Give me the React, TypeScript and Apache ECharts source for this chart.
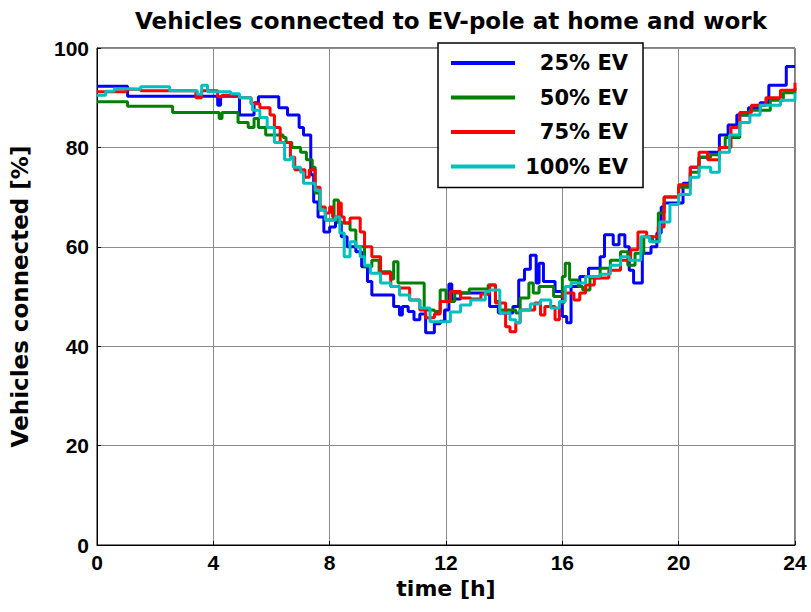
import React, { useEffect, useRef } from "react";
import * as echarts from "echarts";

const seriesNames = ["25% EV", "50% EV", "75% EV", "100% EV"];
const colors = ["#0000FF", "#008000", "#FF0000", "#00BFBF"];
const xTicks = [0, 4, 8, 12, 16, 20, 24];
const yTicks = [0, 20, 40, 60, 80, 100];

const ev25: number[][] = [[0,92.3],[1.05,90.3],[4.15,88.5],[4.25,90.3],[4.9,86.5],[5.4,89],[5.55,90.2],[6.25,88],[6.55,86.5],[6.95,84],[7.1,82.5],[7.35,74.5],[7.45,69],[7.6,66],[7.8,63],[8.0,64],[8.2,65],[8.4,62],[8.6,60],[8.9,59],[9.1,56],[9.3,53],[9.45,50.3],[10.2,48],[10.4,46.3],[10.5,48],[10.7,47],[10.9,45.3],[11.1,46.5],[11.3,42.7],[11.6,44.5],[11.8,45],[11.95,47.3],[12.1,52.5],[12.2,49.5],[12.5,50.7],[13.3,50.5],[13.5,48],[13.8,46.7],[14.3,48],[14.5,53.3],[14.7,55.5],[14.9,58.3],[15.1,52.7],[15.2,56.7],[15.35,53],[15.75,51],[16.0,46],[16.15,44.7],[16.3,52],[16.6,54],[16.9,55.7],[17.3,58],[17.45,62.4],[17.75,60.4],[17.95,62.4],[18.15,60],[18.3,55.3],[18.45,52.7],[18.75,58.7],[19.05,60],[19.25,62.8],[19.4,68],[19.5,68.8],[20.15,72.8],[20.4,76],[20.7,78],[21.0,79],[21.4,82.5],[21.7,84.5],[22.0,86.5],[22.4,88],[22.8,89],[23.1,92.5],[23.7,96.3],[24,96.3]];

const ev50: number[][] = [[0,89.2],[1.05,88.3],[2.6,87],[4.2,85.8],[4.3,87],[4.85,85],[5.2,84],[5.4,85.8],[5.55,84],[5.8,82.5],[6.4,82],[6.5,81],[6.7,80],[7.0,79],[7.2,77.5],[7.4,76],[7.5,70.8],[7.65,67.4],[7.85,65.4],[8.15,69.4],[8.3,64.8],[8.7,63.4],[8.9,60],[9.2,56],[9.45,57.3],[9.7,55],[10.1,53.5],[10.2,57],[10.35,52.7],[11.1,52.7],[11.25,47.3],[11.6,47],[11.8,51.3],[12.0,49],[12.3,50.7],[12.8,51.5],[13.45,52.3],[13.7,49],[13.85,47.3],[14.4,46.7],[14.55,49.7],[14.85,52.7],[15.0,50.7],[15.2,52],[15.7,50],[16.0,54],[16.1,56.7],[16.25,53.3],[16.55,52],[16.7,51.3],[16.95,53.7],[17.3,55.7],[17.65,57.3],[18.0,59],[18.25,56.3],[18.5,58.7],[18.8,62],[19.1,61],[19.3,66.8],[19.5,70],[20.0,72],[20.4,75],[20.7,78],[21.1,78.5],[21.4,80],[21.6,82],[22.1,86.5],[22.45,87.5],[23.15,89.5],[23.6,91],[24,92]];

const ev75: number[][] = [[0,91.2],[1.0,91.7],[1.5,91.4],[3.4,90],[3.6,91.4],[4.15,90.2],[4.3,90.5],[4.9,90],[5.3,88.8],[5.6,88],[5.95,86.5],[6.1,84],[6.3,81],[6.65,78],[6.8,75.5],[7.15,74],[7.3,75.5],[7.5,72],[7.67,68],[7.85,66.8],[8.0,68],[8.1,66],[8.3,68.8],[8.4,66],[8.5,64.8],[8.7,65.8],[9.05,63],[9.2,60],[9.45,58],[9.75,54.7],[10.1,52],[10.4,51.7],[10.75,49.3],[11.1,47.3],[11.3,45.7],[11.6,46.5],[11.8,49],[12.15,51],[12.5,49.7],[12.85,49.5],[13.2,50.5],[13.5,52.3],[13.7,48.7],[14.05,43.9],[14.2,42.9],[14.4,44.7],[14.55,47.3],[15.05,48.7],[15.25,46.3],[15.4,48],[15.75,45.3],[15.9,48.7],[16.05,50.7],[16.4,49.3],[16.6,50.7],[16.8,52.3],[17.1,53.7],[17.6,55.3],[18.0,57.3],[18.35,59.4],[18.6,63],[18.9,62],[19.3,64],[19.5,70],[20.0,72.5],[20.4,76],[20.7,79],[21.0,77.5],[21.4,80],[21.8,84],[22.1,87],[22.5,88.5],[23.0,90],[23.5,91.5],[24,93]];

const ev100: number[][] = [[0,90.5],[0.3,91.3],[0.6,91.8],[1.0,91.7],[1.5,92.2],[2.5,91.4],[3.45,90.7],[3.6,92.5],[3.8,91.2],[4.6,90.8],[4.9,90],[5.3,88.8],[5.35,87.5],[5.6,86],[5.85,84],[6.1,81],[6.45,77.5],[6.65,78],[6.75,76],[7.0,75],[7.1,72.8],[7.5,71.4],[7.67,67.4],[7.85,65.4],[8.2,66],[8.35,62.8],[8.5,58],[8.7,61],[8.9,60],[9.05,58],[9.2,56.3],[9.4,54.7],[9.75,52.7],[10.1,52],[10.4,50.3],[10.75,49.3],[11.1,47.7],[11.45,44.9],[11.8,44.9],[12.15,46.9],[12.5,48.3],[12.85,49.3],[13.35,51],[13.5,51.3],[13.85,46.7],[14.2,45.3],[14.4,44.7],[14.55,47.3],[14.9,48.5],[15.25,49.3],[15.6,47.7],[15.9,49],[16.1,52],[16.3,52.7],[16.8,54],[17.3,54.5],[17.65,56.3],[18.0,58],[18.3,57.3],[18.7,62],[19.0,61],[19.35,65],[19.7,68.5],[20.0,70.5],[20.4,74],[20.7,76],[21.1,75],[21.4,79],[21.75,82.5],[22.1,85],[22.45,86.5],[22.8,88.5],[23.5,89.5],[24,91]];

const allData = [ev25, ev50, ev75, ev100];
const FONT = "'Liberation Sans', Arial, sans-serif";
const WIDE = "'DejaVu Sans', 'Liberation Sans', sans-serif";

export default function App() {
  const ref = useRef<HTMLDivElement>(null);
  useEffect(() => {
    if (!ref.current) return;
    const chart = echarts.init(ref.current, null, { renderer: "svg" });
    chart.setOption({
      animation: false,
      backgroundColor: "#ffffff",
      title: {
        text: "Vehicles connected to EV-pole at home and work",
        left: 446,
        textAlign: "center",
        top: 4,
        textStyle: { fontFamily: WIDE, fontWeight: "bold", fontSize: 23, color: "#000" },
      },
      grid: {
        left: 97, right: 16, top: 48, bottom: 67,
        show: true, borderColor: "#000", borderWidth: 1, backgroundColor: "#fff",
      },
      legend: {
        data: seriesNames.map((n) => ({ name: n, icon: "rect" })),
        orient: "vertical",
        left: 438,
        top: 43,
        itemWidth: 64,
        itemHeight: 4,
        itemGap: 10.5,
        itemTextGap: 5,
        padding: [8, 15, 9, 13],
        backgroundColor: "#fff",
        borderColor: "#000",
        borderWidth: 1.5,
        borderRadius: 0,
        formatter: (n: string) => `{a|${n}}`,
        textStyle: {
          fontFamily: WIDE, fontWeight: "bold", fontSize: 21, color: "#000", lineHeight: 24,
          rich: { a: { width: 108, align: "right", fontFamily: WIDE, fontWeight: "bold", fontSize: 21, lineHeight: 24 } },
        },
      },
      xAxis: {
        type: "value", min: 0, max: 24, interval: 4,
        name: "time [h]", nameLocation: "middle", nameGap: 30,
        nameTextStyle: { fontFamily: WIDE, fontWeight: "bold", fontSize: 22, color: "#000" },
        axisLine: { show: true, lineStyle: { color: "#000", width: 1 } },
        axisTick: { show: true, inside: true, length: 4, lineStyle: { color: "#000" } },
        axisLabel: {
          fontFamily: FONT, fontWeight: "bold", fontSize: 21, color: "#000", margin: 7,
          customValues: xTicks,
        },
        splitLine: { show: true, lineStyle: { color: "#8c8c8c", width: 1 } },
      },
      yAxis: {
        type: "value", min: 0, max: 100, interval: 20,
        name: "Vehicles connected [%]", nameLocation: "middle", nameGap: 66,
        nameTextStyle: { fontFamily: WIDE, fontWeight: "bold", fontSize: 23, color: "#000" },
        axisLine: { show: true, lineStyle: { color: "#000", width: 1 } },
        axisTick: { show: true, inside: true, length: 4, lineStyle: { color: "#000" } },
        axisLabel: {
          fontFamily: FONT, fontWeight: "bold", fontSize: 21, color: "#000", margin: 8,
          customValues: yTicks,
        },
        splitLine: { show: true, lineStyle: { color: "#8c8c8c", width: 1 } },
      },
      series: allData.map((d, i) => ({
        name: seriesNames[i],
        type: "line",
        step: "end",
        data: d,
        showSymbol: false,
        symbol: "none",
        color: colors[i],
        lineStyle: { color: colors[i], width: 3 },
        z: 2 + i,
      })),
    });
    return () => chart.dispose();
  }, []);
  return <div ref={ref} style={{ width: 811, height: 612, position: "absolute", left: 0, top: 0 }} />;
}
